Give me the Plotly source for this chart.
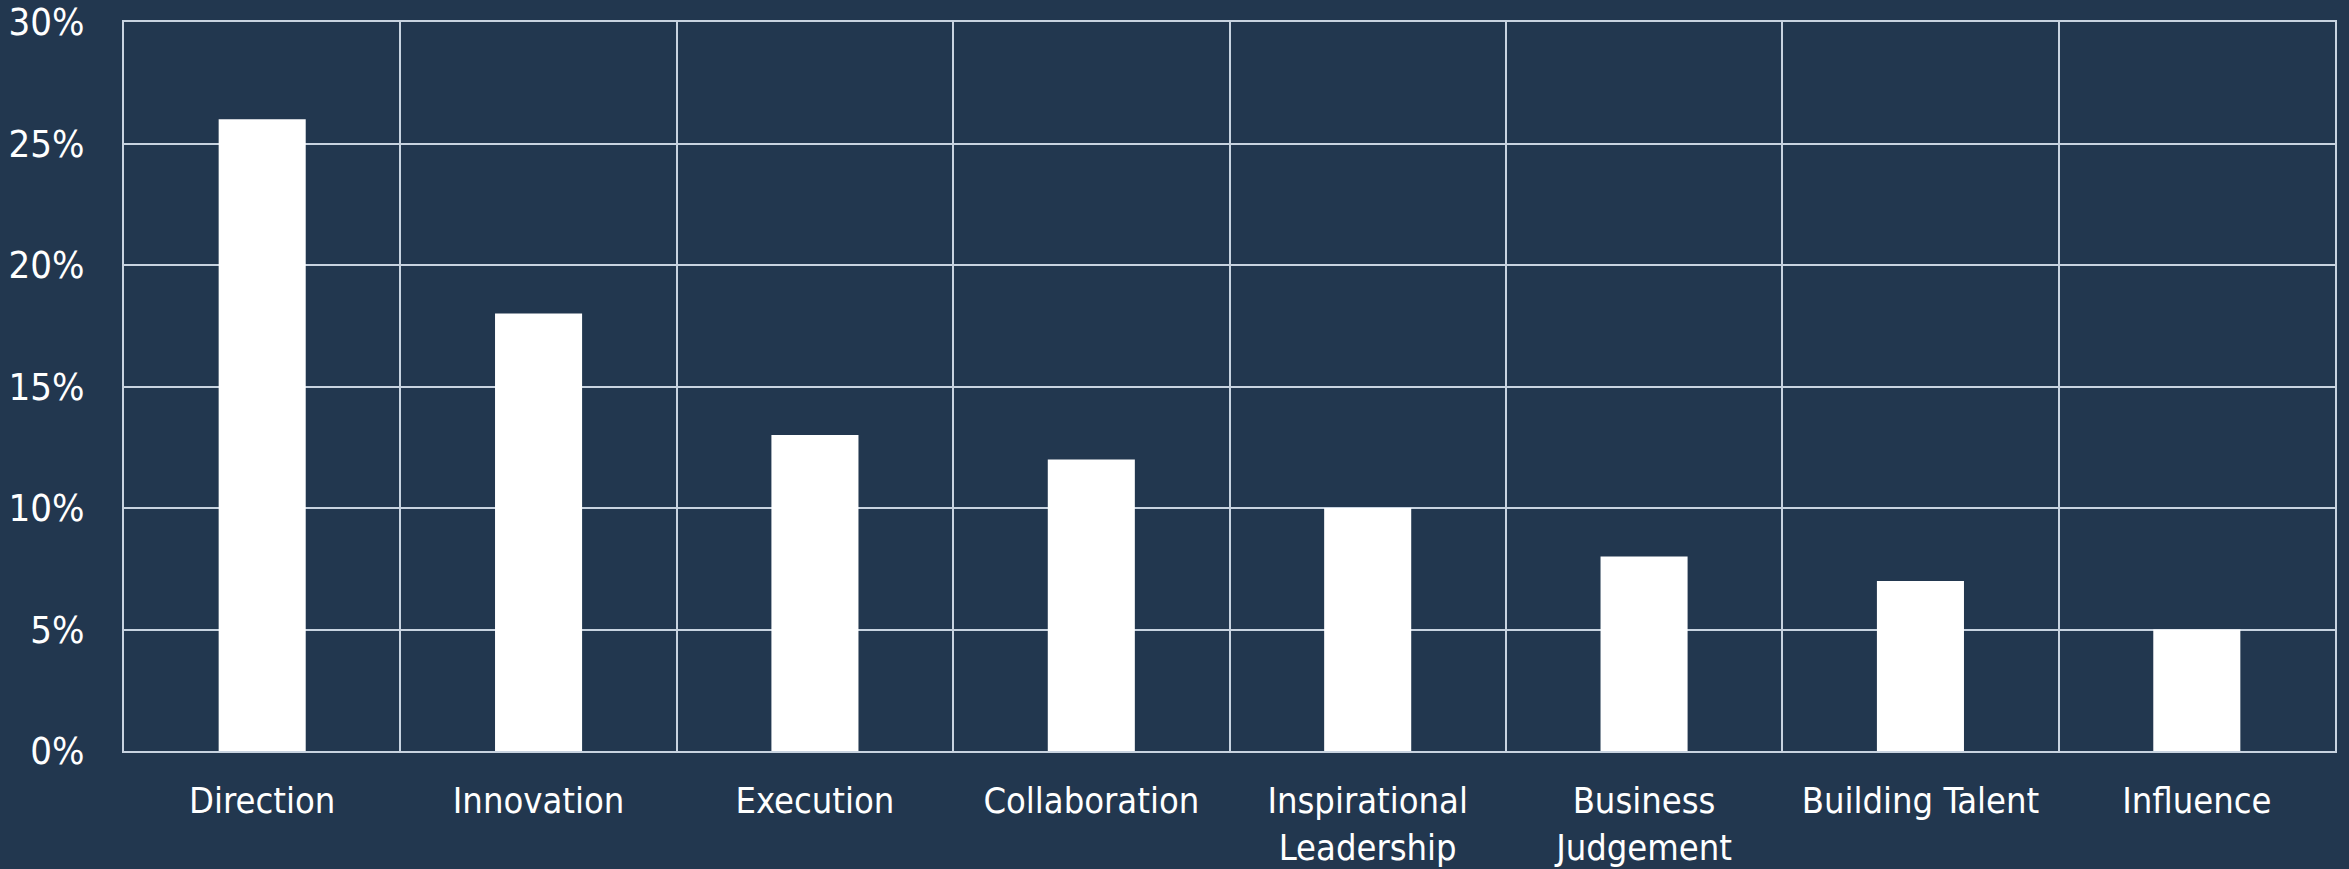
import plotly.graph_objects as go

categories = ["Direction", "Innovation", "Execution", "Collaboration",
              "Inspirational<br>Leadership", "Business<br>Judgement",
              "Building Talent", "Influence"]
values = [0.26, 0.18, 0.13, 0.12, 0.10, 0.08, 0.07, 0.05]
y_ticks = [0, 0.05, 0.10, 0.15, 0.20, 0.25, 0.30]
y_ticktext = ["0%", "5%", "10%", "15%", "20%", "25%", "30%"]

BG = "#22374F"
GRID = "#C8D3E0"
FONT = "DejaVu Sans Condensed"

positions = list(range(len(categories)))

fig = go.Figure(go.Bar(x=positions, y=values, marker=dict(color="white", line=dict(width=0)),
                       width=0.315))

fig.update_layout(
    width=2349, height=869,
    paper_bgcolor=BG, plot_bgcolor=BG,
    margin=dict(l=124, r=14, t=22, b=118, autoexpand=False),
    showlegend=False,
    font=dict(family=FONT, color="white", size=36),
)
fig.update_xaxes(
    range=[-0.5, len(categories) - 0.5],
    tickvals=positions, ticktext=categories,
    showgrid=False, zeroline=False, automargin=False,
    ticks="", ticklabelstandoff=17,
    showline=True, linecolor=GRID, linewidth=2, mirror=True,
    minor=dict(tick0=0.5, dtick=1, showgrid=True, gridcolor=GRID, gridwidth=1.5, ticks=""),
    tickfont=dict(size=36, family=FONT, color="white"),
)
fig.update_yaxes(
    range=[0, 0.30],
    tickvals=y_ticks, ticktext=y_ticktext,
    showgrid=True, gridcolor=GRID, gridwidth=1.5,
    zeroline=False, ticks="", ticklabelstandoff=30, automargin=False,
    showline=True, linecolor=GRID, linewidth=2, mirror=True,
    tickfont=dict(size=38, family=FONT, color="white"),
)

fig.write_html("out.html")
